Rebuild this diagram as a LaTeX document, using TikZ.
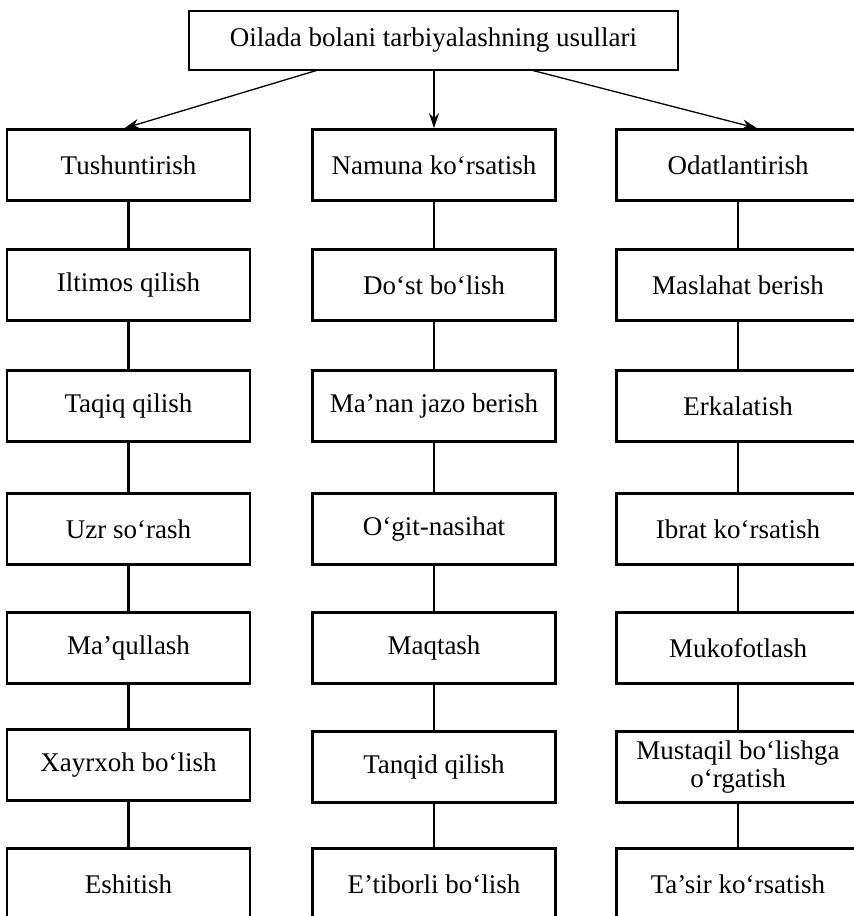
\documentclass[tikz,border=0pt]{standalone}
\usepackage{fontspec}
\setmainfont{Liberation Serif}
\usetikzlibrary{arrows.meta}

\tikzstyle{boite}=[draw,line width=2.6pt,minimum width=243pt,minimum height=71pt,inner sep=2pt,align=center,font=\fontsize{27}{28}\selectfont]
\tikzstyle{lien}=[line width=2.6pt]
\tikzstyle{fleche}=[-{Stealth[length=15pt,width=10pt]},line width=1.3pt]

\begin{document}
\begin{tikzpicture}[x=1pt,y=-1pt]
\useasboundingbox (0,0) rectangle (854,916);
\clip (0,0) rectangle (854,916);
\node [boite,minimum width=489pt,minimum height=59pt] (tete) at (433.5,40.5) {Oilada bolani tarbiyalashning usullari};
% colonne gauche
\foreach \i/\y/\t in {1/165/Tushuntirish,2/285/Iltimos qilish,3/406/Taqiq qilish,4/529/Uzr so‘rash,5/648/Ma’qullash,6/765/Xayrxoh bo‘lish,7/884/Eshitish}
\node [boite] (g\i) at (128.5,\y) {\t};
% colonne du milieu
\foreach \i/\y/\t in {1/165/Namuna ko‘rsatish,2/285/Do‘st bo‘lish,3/406/Ma’nan jazo berish,4/529/O‘git-nasihat,5/648/Maqtash,6/767/Tanqid qilish,7/884/E’tiborli bo‘lish}
\node [boite] (m\i) at (434,\y) {\t};
% colonne droite
\foreach \i/\y/\t in {1/165/Odatlantirish,2/285/Maslahat berish,3/406/Erkalatish,4/529/Ibrat ko‘rsatish,5/648/Mukofotlash,6/767/{Mustaqil bo‘lishga\\o‘rgatish},7/884/Ta’sir ko‘rsatish}
\node [boite] (d\i) at (738,\y) {\t};
\foreach \c in {g,m,d}
\foreach \i/\j in {1/2,2/3,3/4,4/5,5/6,6/7}
\draw [lien] (\c\i) -- (\c\j);
\coordinate (dg) at (318,70);
\coordinate (dd) at (531,70);
\draw [fleche] (dg) -- ([xshift=-4pt]g1.north);
\draw [fleche] (tete.south -| m1.north) -- (m1.north);
\draw [fleche] (dd) -- ([xshift=19pt]d1.north);
\end{tikzpicture}
\end{document}
